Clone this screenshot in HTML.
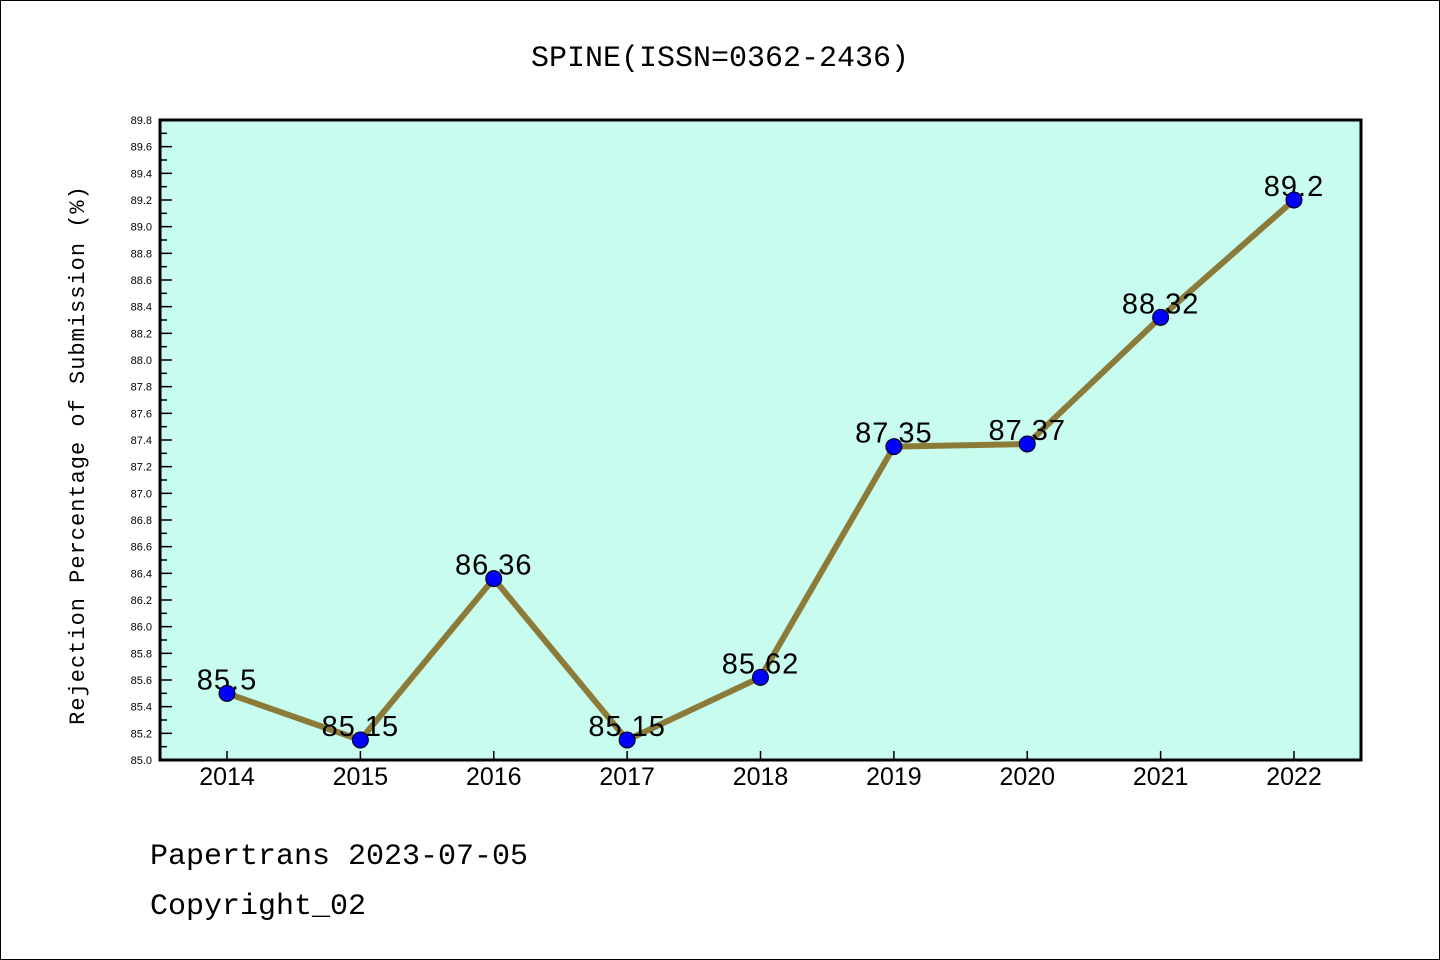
<!DOCTYPE html>
<html><head><meta charset="utf-8"><style>
html,body{margin:0;padding:0;background:#fff}
svg{display:block}
.wq{font-family:"WenQuanYi Zen Hei","Liberation Mono",monospace}
.ls{font-family:"Liberation Sans",sans-serif}
</style></head><body>
<svg id="chart" width="1440" height="960" viewBox="0 0 1440 960">
<rect x="0.5" y="0.5" width="1439" height="959" fill="#fff" stroke="#000"/>
<text class="wq" x="720" y="66" text-anchor="middle" font-size="30">SPINE(ISSN=0362-2436)</text>
<rect x="160" y="120" width="1201" height="640" fill="#c7fcee"/>
<g id="axes"></g>
<g id="series"></g>
<rect x="160" y="120" width="1201" height="640" fill="none" stroke="#000" stroke-width="3"/>
<text class="wq" transform="translate(84,455) rotate(-90)" text-anchor="middle" font-size="22" letter-spacing="1">Rejection Percentage of Submission (%)</text>
<text class="wq" x="150" y="864" font-size="30">Papertrans 2023-07-05</text>
<text class="wq" x="150" y="914" font-size="30">Copyright_02</text>
</svg>
<script>
const years = ["2014","2015","2016","2017","2018","2019","2020","2021","2022"];
const rates = [85.5,85.15,86.36,85.15,85.62,87.35,87.37,88.32,89.2];
const labels = ["85.5","85.15","86.36","85.15","85.62","87.35","87.37","88.32","89.2"];
const yMin = 85.0, yMax = 89.8;
const NS="http://www.w3.org/2000/svg";
const L=160,R=1361,T=120,B=760;
const xs=i=>227+i*(1294-227)/(years.length-1);
const ys=v=>B-(v-yMin)/(yMax-yMin)*(B-T);
function mk(tag,a,p){const e=document.createElementNS(NS,tag);for(const k in a)e.setAttribute(k,a[k]);p.appendChild(e);return e;}
const ax=document.getElementById('axes'), sg=document.getElementById('series');
const nMinor=Math.round((yMax-yMin)/0.1);
for(let k=0;k<=nMinor;k++){
  const v=yMin+k*0.1, y=ys(v), major=k%2===0;
  const t=mk('line',{x1:L,x2:L+(major?12:7),y1:y,y2:y,stroke:'#000','stroke-width':1.5},ax);
  
  
  if(major){
    const tx=mk('text',{x:152,y:y+4,'text-anchor':'end','font-size':11,'class':'ls'},ax);
    tx.textContent=v.toFixed(1);
    
    
  }
}
years.forEach((yr,i)=>{
  const x=xs(i);
  const t=mk('line',{x1:x,x2:x,y1:B,y2:B-9,stroke:'#000','stroke-width':1.5},ax);
  
  
  const tx=mk('text',{x:x,y:785,'text-anchor':'middle','font-size':25,'class':'ls'},ax);
  tx.textContent=yr;
  
  
});
const pts=rates.map((v,i)=>xs(i)+','+ys(v)).join(' ');
const line=mk('polyline',{points:pts,fill:'none',stroke:'#8c7a38','stroke-width':6,'stroke-linejoin':'round'},sg);


rates.forEach((v,i)=>{
  const tx=mk('text',{x:xs(i),y:ys(v)-4,'text-anchor':'middle','font-size':29,'letter-spacing':1,'class':'ls'},sg);
  tx.textContent=labels[i];
  
  
});
rates.forEach((v,i)=>{
  const c=mk('circle',{cx:xs(i),cy:ys(v),r:8,fill:'#0000ff',stroke:'#000','stroke-width':1},sg);
  
  
});
</script>
</body></html>
